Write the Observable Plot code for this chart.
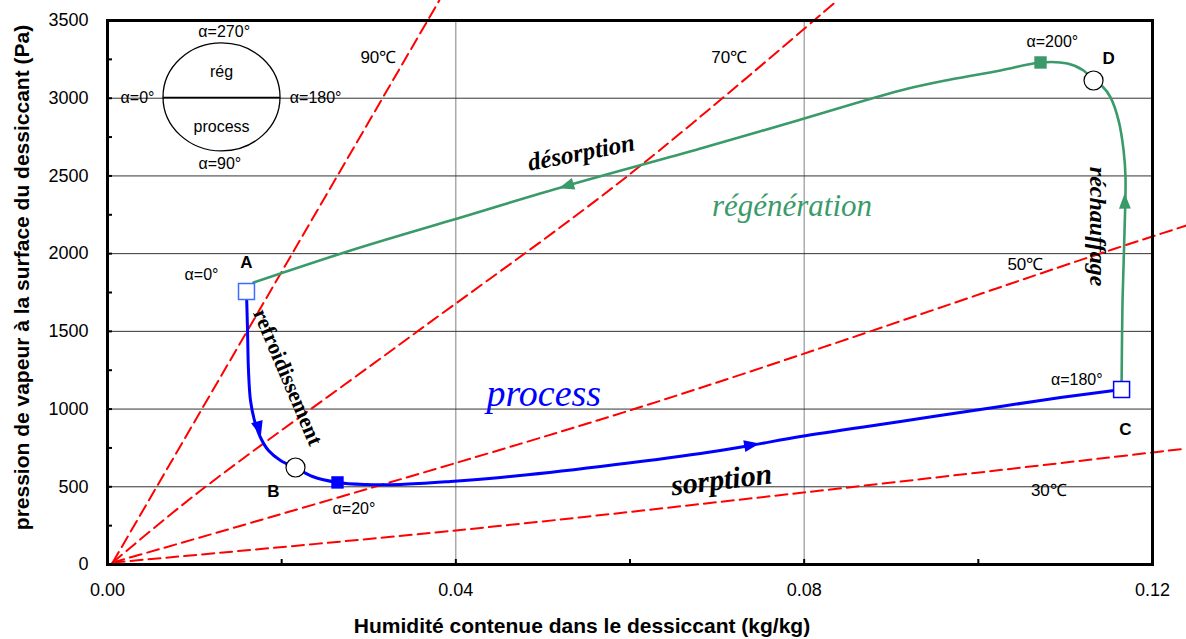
<!DOCTYPE html>
<html>
<head>
<meta charset="utf-8">
<script src="https://cdn.jsdelivr.net/npm/d3@7"></script>
<script src="https://cdn.jsdelivr.net/npm/@observablehq/plot@0.6"></script>
<style>
  body { margin: 0; background: #fff; }
  #chart svg { display: block; }
</style>
</head>
<body>
<div id="chart"></div>
<script>
// ---------- axis ticks ----------
const xTicks = [0, 0.04, 0.08, 0.12];
const xTickLabels = ["0.00", "0.04", "0.08", "0.12"];
const xMinorTicks = [0, 0.02, 0.04, 0.06, 0.08, 0.10, 0.12];
const yTicks = [0, 500, 1000, 1500, 2000, 2500, 3000, 3500];
const yMinorTicks = [0, 250, 500, 750, 1000, 1250, 1500, 1750, 2000, 2250, 2500, 2750, 3000, 3250, 3500];
const xGrid = [0.04, 0.08];
const yGrid = [500, 1000, 1500, 2000, 2500, 3000];

// ---------- isotherms (red dashed) ----------
const iso90 = [[0.0006, 13], [0.0381, 3629]];
const iso70 = [[0.0006, 13], [0.0107, 476], [0.0337, 1422], [0.0598, 2503], [0.0838, 3629]];
const iso50 = [[0.0006, 13], [0.0603, 997], [0.1140, 2001], [0.1239, 2181]];
const iso30 = [[0.0006, 13], [0.0400, 219], [0.0799, 463], [0.1140, 682], [0.1239, 746]];
const isoLabels = [
  {text: "90℃", x: 0.0311, y: 3262},
  {text: "70℃", x: 0.0714, y: 3262},
  {text: "50℃", x: 0.1054, y: 1930},
  {text: "30℃", x: 0.1081, y: 476}
];

// ---------- process curve (blue), A -> B -> C ----------
const processCurve = [
  [0.01596, 1756], [0.01608, 1506], [0.01619, 1248], [0.01642, 1055], [0.01688, 926],
  [0.01757, 817], [0.01849, 733], [0.01987, 669], [0.02159, 624], [0.02354, 566],
  [0.02641, 528], [0.02963, 515], [0.03365, 515], [0.03939, 534], [0.04513, 560],
  [0.05662, 631], [0.06810, 714], [0.07384, 766], [0.07958, 824], [0.09107, 920],
  [0.10255, 1017], [0.10944, 1074], [0.11645, 1126]
];

// ---------- regeneration curve (green), C -> D -> A ----------
const regenCurve = [
  [0.11645, 1158], [0.11656, 1699], [0.11679, 2149], [0.11690, 2490], [0.11668, 2664],
  [0.11610, 2857], [0.11518, 3005], [0.11426, 3075], [0.11323, 3114], [0.11208, 3178],
  [0.11024, 3223], [0.10714, 3230], [0.10255, 3178], [0.09681, 3120], [0.09107, 3050],
  [0.07924, 2857], [0.06810, 2676], [0.05283, 2438], [0.03939, 2213], [0.02791, 2020],
  [0.01677, 1814]
];

// ---------- arrows along the curves ----------
const processArrows = [
  {x: 0.01734, y: 880, angle: 165},
  {x: 0.07384, y: 768, angle: 80}
];
const regenArrows = [
  {x: 0.05283, y: 2438, angle: 253},
  {x: 0.11682, y: 2330, angle: -1}
];

// ---------- state markers ----------
const openSquares = [{x: 0.01596, y: 1756, c: "#3d6cff"}, {x: 0.11645, y: 1126, c: "#0000ff"}];
const openCircles = [{x: 0.02159, y: 624}, {x: 0.11323, y: 3114}];
const blueFilled = [{x: 0.02641, y: 528}];
const greenFilled = [{x: 0.10714, y: 3230}];

const pointLabels = [
  {text: "A", x: 0.01596, y: 1943},
  {text: "B", x: 0.01906, y: 470},
  {text: "C", x: 0.1169, y: 868},
  {text: "D", x: 0.11495, y: 3256}
];
const alphaLabels = [
  {text: "α=0°", x: 0.0108, y: 1866},
  {text: "α=20°", x: 0.0283, y: 360},
  {text: "α=180°", x: 0.1113, y: 1190},
  {text: "α=200°", x: 0.1085, y: 3365}
];

// ---------- small legend (circle) ----------
const legendCenter = {x: 0.01315, y: 3005};
const legendLine = [{x1: 0.00642, x2: 0.01985, y: 3005}];
const legendTexts = [
  {text: "α=270°", x: 0.0134, y: 3429},
  {text: "rég", x: 0.0131, y: 3172},
  {text: "process", x: 0.0131, y: 2818},
  {text: "α=90°", x: 0.0129, y: 2580},
  {text: "α=0°", x: 0.00345, y: 3005},
  {text: "α=180°", x: 0.0239, y: 3005}
];

// ---------- annotations ----------
const annotations = [
  {text: "désorption", x: 0.0544, y: 2650, rotate: -11, size: 25, style: "italic", weight: "bold", color: "#000", ls: 1},
  {text: "sorption", x: 0.0705, y: 545, rotate: -7, size: 30, style: "italic", weight: "bold", color: "#000", ls: 1},
  {text: "refroidissement", x: 0.0207, y: 1206, rotate: 67, size: 22, style: "normal", weight: "bold", color: "#000", ls: 1},
  {text: "réchauffage", x: 0.1137, y: 2174, rotate: 90, size: 24, style: "italic", weight: "bold", color: "#000", ls: 1.2},
  {text: "régénération", x: 0.0786, y: 2303, rotate: 0, size: 31, style: "italic", weight: "normal", color: "#3a9a6a", ls: 1.8},
  {text: "process", x: 0.0501, y: 1100, rotate: 0, size: 38, style: "italic", weight: "normal", color: "#0000ff", ls: 2.5}
];

const xTitle = "Humidité contenue dans le dessiccant (kg/kg)";
const yTitle = "pression de vapeur à la surface du dessiccant (Pa)";

const arrowHead = {
  draw(ctx, size) {
    const r = Math.sqrt(size / Math.PI);
    ctx.moveTo(0, -1.3 * r);
    ctx.lineTo(0.85 * r, 0.9 * r);
    ctx.lineTo(-0.85 * r, 0.9 * r);
    ctx.closePath();
  }
};

const GREEN = "#3a9a6a";
const BLUE = "#0000ff";
const RED = "#ff0000";
const serif = "'Liberation Serif', 'Times New Roman', serif";

const isoStyle = {x: d => d[0], y: d => d[1], stroke: RED, strokeWidth: 2, strokeDasharray: "12,6"};

const chart = Plot.plot({
  width: 1186,
  height: 639,
  marginLeft: 107,
  marginRight: 34,
  marginTop: 20,
  marginBottom: 75,
  style: {fontFamily: "'Liberation Sans', Arial, sans-serif", fontSize: "16px", background: "#fff", overflow: "visible"},
  x: {domain: [0, 0.12]},
  y: {domain: [0, 3500]},
  marks: [
    // grid
    Plot.ruleX(xGrid, {stroke: "#808080", strokeWidth: 1}),
    Plot.ruleY(yGrid, {stroke: "#333", strokeWidth: 1}),
    // isotherms
    Plot.line(iso90, isoStyle),
    Plot.line(iso70, {...isoStyle, curve: "catmull-rom"}),
    Plot.line(iso50, {...isoStyle, curve: "catmull-rom"}),
    Plot.line(iso30, {...isoStyle, curve: "catmull-rom"}),
    Plot.text(isoLabels, {x: "x", y: "y", text: "text", fontSize: 17, fill: "#000"}),
    // legend circle
    (index, {x, y}) => {
      const e = d3.create("svg:ellipse")
        .attr("cx", x(legendCenter.x)).attr("cy", y(legendCenter.y))
        .attr("rx", 58.5).attr("ry", 54)
        .attr("fill", "none").attr("stroke", "#000").attr("stroke-width", 1.3);
      return e.node();
    },
    Plot.ruleY(legendLine, {x1: "x1", x2: "x2", y: "y", stroke: "#000", strokeWidth: 1.6}),
    Plot.text(legendTexts, {x: "x", y: "y", text: "text", fontSize: 16, fill: "#000"}),
    // curves
    Plot.line(regenCurve, {x: d => d[0], y: d => d[1], stroke: GREEN, strokeWidth: 2.6, curve: "catmull-rom"}),
    Plot.line(processCurve, {x: d => d[0], y: d => d[1], stroke: BLUE, strokeWidth: 3, curve: "catmull-rom"}),
    Plot.dot(processArrows, {x: "x", y: "y", rotate: "angle", symbol: arrowHead, r: 7, fill: BLUE, stroke: "none"}),
    Plot.dot(regenArrows, {x: "x", y: "y", rotate: "angle", symbol: arrowHead, r: 7, fill: GREEN, stroke: "none"}),
    // markers
    Plot.dot(blueFilled, {x: "x", y: "y", symbol: "square", r: 7, fill: BLUE, stroke: "none"}),
    Plot.dot(greenFilled, {x: "x", y: "y", symbol: "square", r: 7, fill: GREEN, stroke: "none"}),
    Plot.dot(openSquares, {x: "x", y: "y", symbol: "square", r: 9, fill: "#fff", stroke: "c", strokeWidth: 1.5}),
    Plot.dot(openCircles, {x: "x", y: "y", r: 9.5, fill: "#fff", stroke: "#000", strokeWidth: 1.2}),
    // labels
    Plot.text(pointLabels, {x: "x", y: "y", text: "text", fontSize: 17, fontWeight: "bold", fill: "#000"}),
    Plot.text(alphaLabels, {x: "x", y: "y", text: "text", fontSize: 16, fill: "#000"}),
    ...annotations.map(a => Plot.text([a], {
      x: "x", y: "y", text: "text", rotate: a.rotate, fontSize: a.size,
      fontStyle: a.style, fontWeight: a.weight, fill: a.color, fontFamily: serif,
      ariaLabel: "annotation-" + a.ls
    })),
    // frame & axes
    Plot.frame({stroke: "#000", strokeWidth: 3}),
    Plot.axisY(yMinorTicks, {anchor: "left", tickSize: -5, tickFormat: () => "", label: null, strokeWidth: 2}),
    Plot.axisX(xMinorTicks, {anchor: "bottom", tickSize: -5, tickFormat: () => "", label: null, strokeWidth: 2}),
    Plot.axisY(yTicks, {anchor: "left", tickSize: 0, tickPadding: 19, label: null, fontSize: 18,
      tickFormat: d => String(d), ariaLabel: "ytick-labels"}),
    Plot.axisX(xTicks, {anchor: "bottom", tickSize: 0, tickPadding: 19, label: null, fontSize: 18,
      tickFormat: d => xTickLabels[xTicks.indexOf(d)], ariaLabel: "xtick-labels"}),
    Plot.text([xTitle], {frameAnchor: "bottom", textAnchor: "middle", lineAnchor: "middle", dx: -48, dy: 62,
      fontSize: 21, fontWeight: "bold", fill: "#000", ariaLabel: "titles"}),
    Plot.text([yTitle], {frameAnchor: "left", textAnchor: "middle", lineAnchor: "middle", rotate: -90, dx: -85, dy: -15,
      fontSize: 21, fontWeight: "bold", fill: "#000", ariaLabel: "titles"})
  ]
});

document.getElementById("chart").append(chart);
const svg = d3.select(chart);
svg.selectAll('g[aria-label^="annotation-"]').each(function() {
  const ls = this.getAttribute("aria-label").split("-")[1];
  d3.select(this).selectAll("text").attr("letter-spacing", ls + "px");
});
svg.selectAll('g[aria-label="ytick-labels"] text, g[aria-label="xtick-labels"] text').attr("font-size", 18);
svg.selectAll('g[aria-label="titles"] text').attr("letter-spacing", "0.2px");
</script>
</body>
</html>
